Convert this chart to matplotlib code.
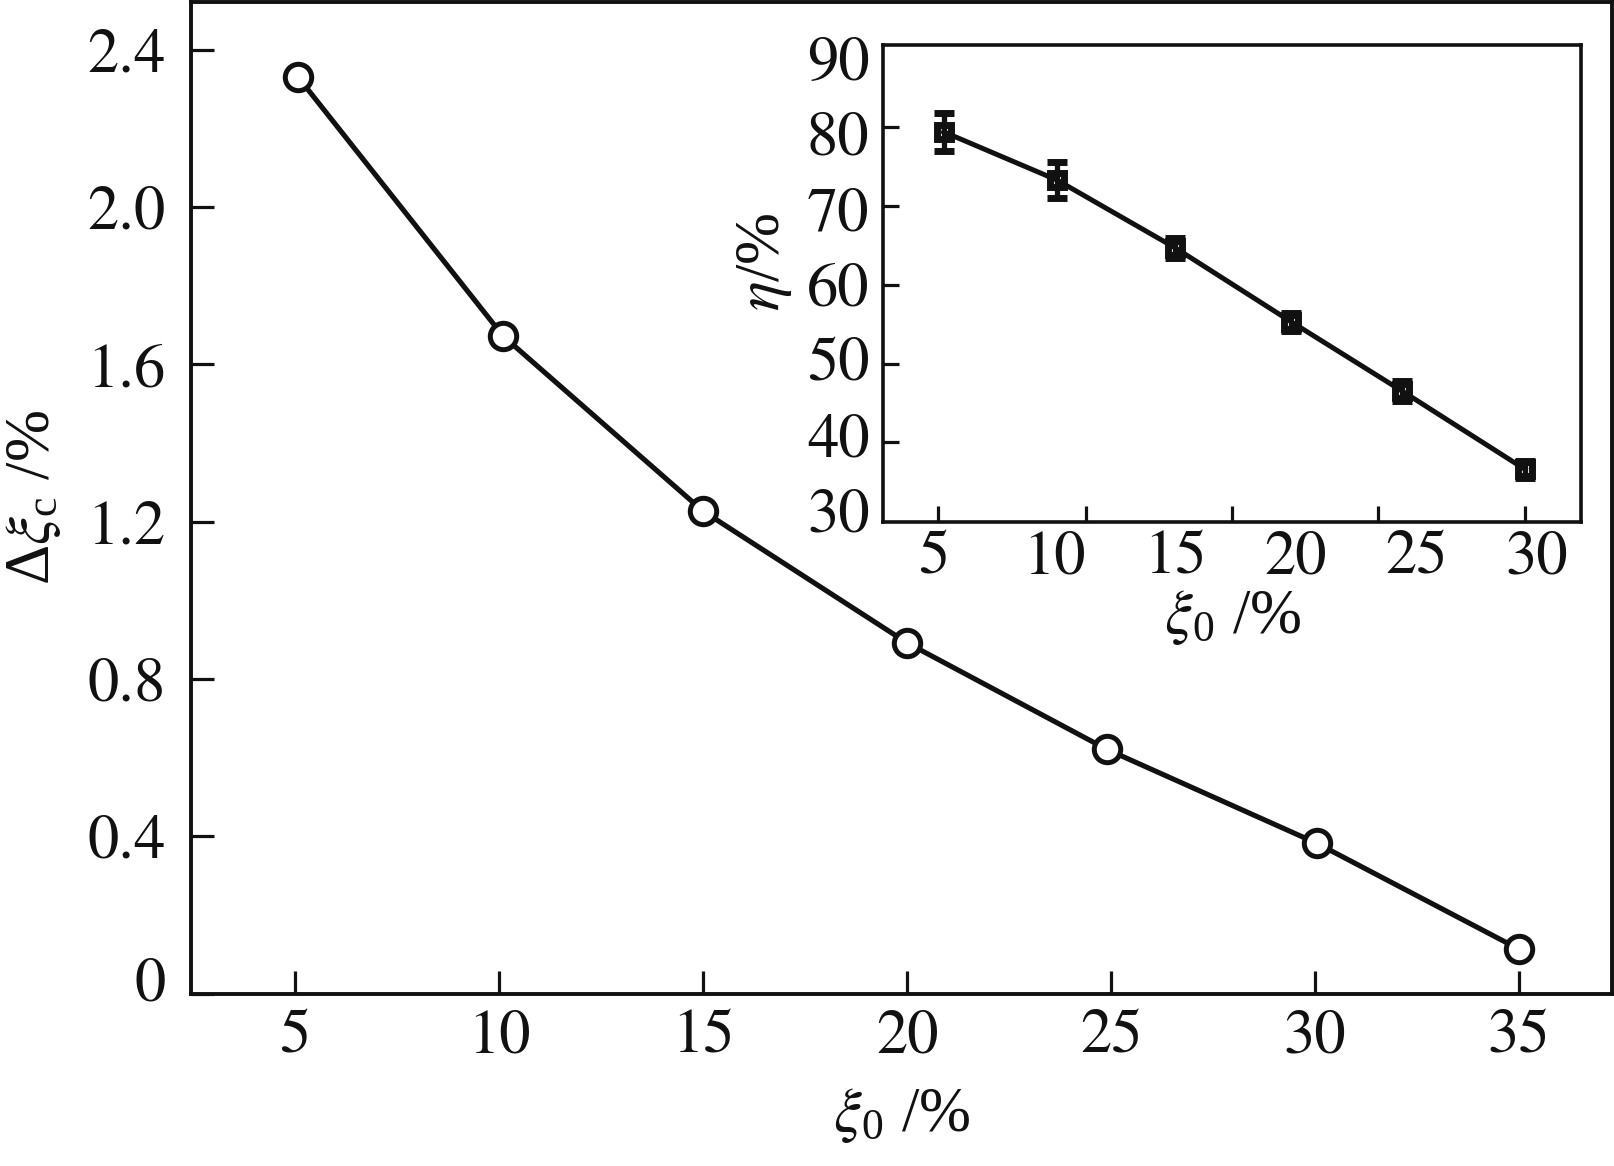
import matplotlib
matplotlib.use("Agg")
import matplotlib.pyplot as plt

# ---- data ----
main_x = [5.07, 10.1, 15.0, 20.0, 24.9, 30.05, 35.0]
main_y = [2.331, 1.672, 1.227, 0.892, 0.621, 0.382, 0.113]
main_xticks = [5, 10, 15, 20, 25, 30, 35]
main_yticks = [0, 0.4, 0.8, 1.2, 1.6, 2.0, 2.4]
main_yticklabels = ["0", "0.4", "0.8", "1.2", "1.6", "2.0", "2.4"]

inset_x = [5.4, 10.1, 15.0, 19.8, 24.4, 29.5]
inset_y = [80.2, 73.8, 64.8, 55.0, 45.8, 35.4]
inset_err = [2.5, 2.4, 1.3, 1.2, 1.3, 1.1]
inset_xticklabels = [5, 10, 15, 20, 25, 30]
inset_yticklabels = [30, 40, 50, 60, 70, 80, 90]
# tick marks of the inset, drawn where they sit in the original (not under the labels)
inset_xmarks = [5.17, 11.3, 17.36, 23.41, 29.5]
inset_ymarks = [39.0, 49.4, 59.9, 70.35, 80.84]

K = "#111111"
plt.rcParams["font.family"] = ["STIXGeneral", "DejaVu Serif"]
plt.rcParams["mathtext.fontset"] = "custom"
plt.rcParams["mathtext.rm"] = "Liberation Serif"
plt.rcParams["mathtext.it"] = "STIXGeneral:italic"
plt.rcParams["mathtext.bf"] = "Liberation Serif:bold"
plt.rcParams["mathtext.fallback"] = "stix"
FS = 45

W, H = 1614, 1166
fig = plt.figure(figsize=(W / 100, H / 100), dpi=100)

# ---- main axes ----
ax = fig.add_axes([190.7 / W, 1 - 993.6 / H, (1612 - 190.7) / W, (993.6 - 1.5) / H])
ax.plot(main_x, main_y, "-o", color=K, lw=3.7, ms=19, mfc="white", mec=K, mew=3.6,
        zorder=3, clip_on=False)
ax.set_xlim(2.44, 37.28)
ax.set_ylim(0, 2.523)
ax.set_xticks(main_xticks)
ax.set_xticklabels([str(t) for t in main_xticks])
ax.set_yticks(main_yticks)
ax.set_yticklabels([""] + main_yticklabels[1:])
ax.tick_params(direction="in", length=16.5, width=2.3, color=K, labelsize=FS,
               labelcolor=K)
ax.tick_params(axis="x", pad=11)
ax.tick_params(axis="y", pad=18)
ax.tick_params(top=False, right=False)
for s in ax.spines.values():
    s.set_linewidth(2.8)
    s.set_color(K)
ax.annotate(main_yticklabels[0], xy=(0, main_yticks[0]), xycoords=ax.get_yaxis_transform(),
            xytext=(-25, 15), textcoords="offset pixels", ha="right",
            va="center_baseline", fontsize=FS, color=K)

ax.set_xlabel(r"$\xi_0\ \mathrm{/\%}$", fontsize=FS, color=K, va="center")
ax.xaxis.set_label_coords(0.5, -0.123)
ax.set_ylabel(r"$\Delta\xi_{\mathrm{c}}\ \mathrm{/\%}$", fontsize=FS, color=K, va="center")
ax.yaxis.set_label_coords(-0.1105, 0.5)

# ---- inset axes ----
ins = fig.add_axes([883.5 / W, 1 - 522 / H, (1581 - 883.5) / W, (522 - 45) / H])
ins.set_facecolor("white")
ins.errorbar(inset_x, inset_y, yerr=inset_err, fmt="-s", color=K, lw=3.6, ms=10.5,
             mfc="none", mec=K, mew=5.0, ecolor=K, elinewidth=3.8, capsize=7.5,
             capthick=3.8, zorder=3)
ins.set_xlim(2.906, 31.82)
ins.set_ylim(28.41, 91.73)
ins.set_xticks(inset_xticklabels)
ins.set_xticklabels([str(t) for t in inset_xticklabels])
ins.set_yticks(inset_yticklabels)
ins.set_yticklabels([str(t) for t in inset_yticklabels])
ins.set_xticks(inset_xmarks, minor=True)
ins.set_yticks(inset_ymarks, minor=True)
ins.tick_params(which="major", length=0, labelsize=FS, labelcolor=K)
ins.tick_params(which="major", axis="x", pad=6)
ins.tick_params(which="major", axis="y", pad=10)
ins.tick_params(which="minor", direction="in", length=11.5, width=2.3, color=K)
for s in ins.spines.values():
    s.set_linewidth(2.6)
    s.set_color(K)
ins.set_xlabel(r"$\xi_0\ \mathrm{/\%}$", fontsize=FS, color=K, va="center")
ins.xaxis.set_label_coords(0.5, -0.201)
ins.set_ylabel(r"$\eta\mathrm{/\%}$", fontsize=FS, color=K, va="center")
ins.yaxis.set_label_coords(-0.170, 0.545)

fig.savefig("out.png", dpi=100, facecolor="white")
